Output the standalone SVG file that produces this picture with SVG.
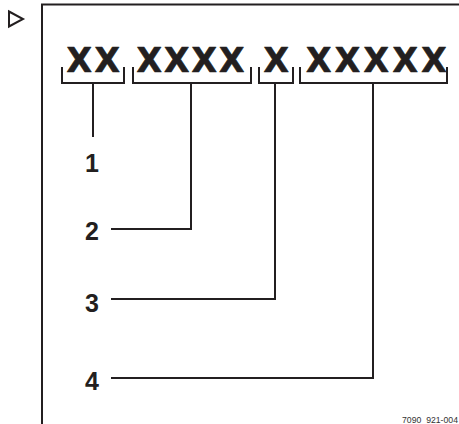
<svg xmlns="http://www.w3.org/2000/svg" width="459" height="424" viewBox="0 0 459 424">
<style>
.ln{fill:none;stroke:#231f20;stroke-width:2}
.code{font-family:"DejaVu Sans","Liberation Sans",Arial,sans-serif;font-weight:bold;font-size:33px;fill:#231f20;stroke:#231f20;stroke-width:0.6;stroke-linejoin:round}
.num{font-family:"Liberation Sans",Arial,sans-serif;font-weight:bold;font-size:25px;fill:#231f20;text-anchor:middle}
.ref{font-family:"Liberation Sans",Arial,sans-serif;font-size:9px;fill:#333}
</style>
<rect width="459" height="424" fill="#fff"/>
<g id="frame">
<path class="ln" d="M42,424 V4.5 H459"/>
<polygon points="9,11.5 23,19 9,26.5" fill="none" stroke="#231f20" stroke-width="2"/>
</g>
<g id="code">
<text class="code" x="66.5 94.5" y="72">XX</text>
<text class="code" x="136.5 164 191.5 219" y="72">XXXX</text>
<text class="code" x="263.5" y="72">X</text>
<text class="code" x="306 334.8 363.6 392.4 421.2" y="72">XXXXX</text>
</g>
<g id="connectors">
<path class="ln" d="M62,67 V83 H124 V67 M93,83 V137"/>
<path class="ln" d="M133,67 V83 H251 V67 M191,83 V229 H111"/>
<path class="ln" d="M259,67 V83 H293 V67 M275,83 V299 H111"/>
<path class="ln" d="M300,67 V83 H447 V67 M373,83 V378 H111"/>
</g>
<g id="label1"><text class="num" x="92" y="172">1</text></g>
<g id="label2"><text class="num" x="92" y="240">2</text></g>
<g id="label3"><text class="num" x="92" y="312">3</text></g>
<g id="label4"><text class="num" x="92" y="390">4</text></g>
<text class="ref" x="402" y="423" textLength="56" lengthAdjust="spacingAndGlyphs">7090_921-004</text>
</svg>
